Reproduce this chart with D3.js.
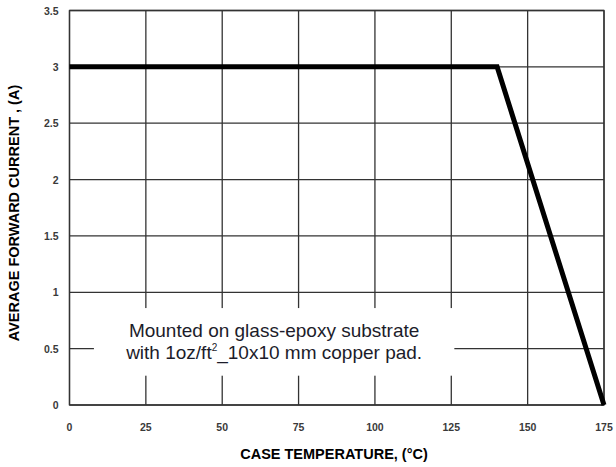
<!DOCTYPE html>
<html>
<head>
<meta charset="utf-8">
<script src="https://cdn.jsdelivr.net/npm/d3@7"></script>
<style>
  body { margin: 0; background: #fff; }
  svg { display: block; }
</style>
</head>
<body>
<script>
// derating curve: average forward current vs case temperature
const temps = [0, 140, 175];
const currents = [3, 3, 0];

const xTicks = [0, 25, 50, 75, 100, 125, 150, 175];
const yTicks = [0, 0.5, 1, 1.5, 2, 2.5, 3, 3.5];
const yTickLabels = ['0', '0.5', '1', '1.5', '2', '2.5', '3', '3.5'];

const noteLines = ['Mounted on glass-epoxy substrate', 'with 1oz/ft', '2', '_10x10 mm copper pad.'];

const width = 616, height = 467;
const margin = {top: 10.5, right: 12, bottom: 62, left: 69.5};

const svg = d3.select('body').append('svg')
    .attr('width', width)
    .attr('height', height);

const x = d3.scaleLinear()
    .domain([0, 175])
    .range([margin.left, width - margin.right]);

const y = d3.scaleLinear()
    .domain([0, 3.5])
    .range([height - margin.bottom, margin.top]);

const gridColor = '#333';

// grid
const grid = svg.append('g')
    .attr('stroke', gridColor)
    .attr('stroke-width', 1.3);

grid.selectAll('line.v')
    .data(xTicks)
    .enter().append('line')
    .attr('class', 'v')
    .attr('x1', d => x(d)).attr('x2', d => x(d))
    .attr('y1', y(0)).attr('y2', y(3.5));

grid.selectAll('line.h')
    .data(yTicks)
    .enter().append('line')
    .attr('class', 'h')
    .attr('x1', x(0)).attr('x2', x(175))
    .attr('y1', d => y(d)).attr('y2', d => y(d));

// white note box, cuts through grid
svg.append('rect')
    .attr('x', x(8))
    .attr('y', y(0.86))
    .attr('width', x(126) - x(8))
    .attr('height', y(0.26) - y(0.86))
    .attr('fill', '#fff');

// border over the box
svg.append('rect')
    .attr('x', x(0)).attr('y', y(3.5))
    .attr('width', x(175) - x(0))
    .attr('height', y(0) - y(3.5))
    .attr('fill', 'none')
    .attr('stroke', gridColor)
    .attr('stroke-width', 1.3);

// curve
const line = d3.line()
    .x(d => x(d[0]))
    .y(d => y(d[1]));

svg.append('path')
    .datum(d3.zip(temps, currents))
    .attr('d', line)
    .attr('fill', 'none')
    .attr('stroke', '#000')
    .attr('stroke-width', 5)
    .attr('stroke-linejoin', 'miter');

// tick labels
const tickStyle = sel => sel
    .attr('font-family', 'Liberation Sans, Arial, sans-serif')
    .attr('font-size', 10.5)
    .attr('font-weight', 'bold')
    .attr('fill', '#3a3a3a');

svg.append('g').call(tickStyle)
    .selectAll('text')
    .data(xTicks)
    .enter().append('text')
    .attr('x', d => x(d))
    .attr('y', y(0) + 26)
    .attr('text-anchor', 'middle')
    .text(d => d);

svg.append('g').call(tickStyle)
    .selectAll('text')
    .data(yTicks)
    .enter().append('text')
    .attr('x', x(0) - 11)
    .attr('y', d => y(d) + 4)
    .attr('text-anchor', 'end')
    .text((d, i) => yTickLabels[i]);

// axis titles
svg.append('text')
    .attr('x', 334)
    .attr('y', 459)
    .attr('text-anchor', 'middle')
    .attr('font-family', 'Liberation Sans, Arial, sans-serif')
    .attr('font-size', 14.5)
    .attr('font-weight', 'bold')
    .attr('fill', '#000')
    .text('CASE TEMPERATURE, (°C)');

svg.append('text')
    .attr('transform', 'translate(19,213) rotate(-90)')
    .attr('text-anchor', 'middle')
    .attr('font-family', 'Liberation Sans, Arial, sans-serif')
    .attr('font-size', 14.5)
    .attr('font-weight', 'bold')
    .attr('fill', '#000')
    .text('AVERAGE FORWARD CURRENT , (A)');

// note
const note = svg.append('text')
    .attr('text-anchor', 'middle')
    .attr('font-family', 'Liberation Sans, Arial, sans-serif')
    .attr('font-size', 19)
    .attr('fill', '#1c1c2a');

note.append('tspan')
    .attr('x', x(67))
    .attr('y', 337)
    .text(noteLines[0]);

const l2 = note.append('tspan')
    .attr('x', x(67))
    .attr('y', 359);
l2.append('tspan').text(noteLines[1]);
l2.append('tspan')
    .attr('font-size', 10)
    .attr('dy', -8)
    .text(noteLines[2]);
l2.append('tspan')
    .attr('dy', 8)
    .text(noteLines[3]);
</script>
</body>
</html>
